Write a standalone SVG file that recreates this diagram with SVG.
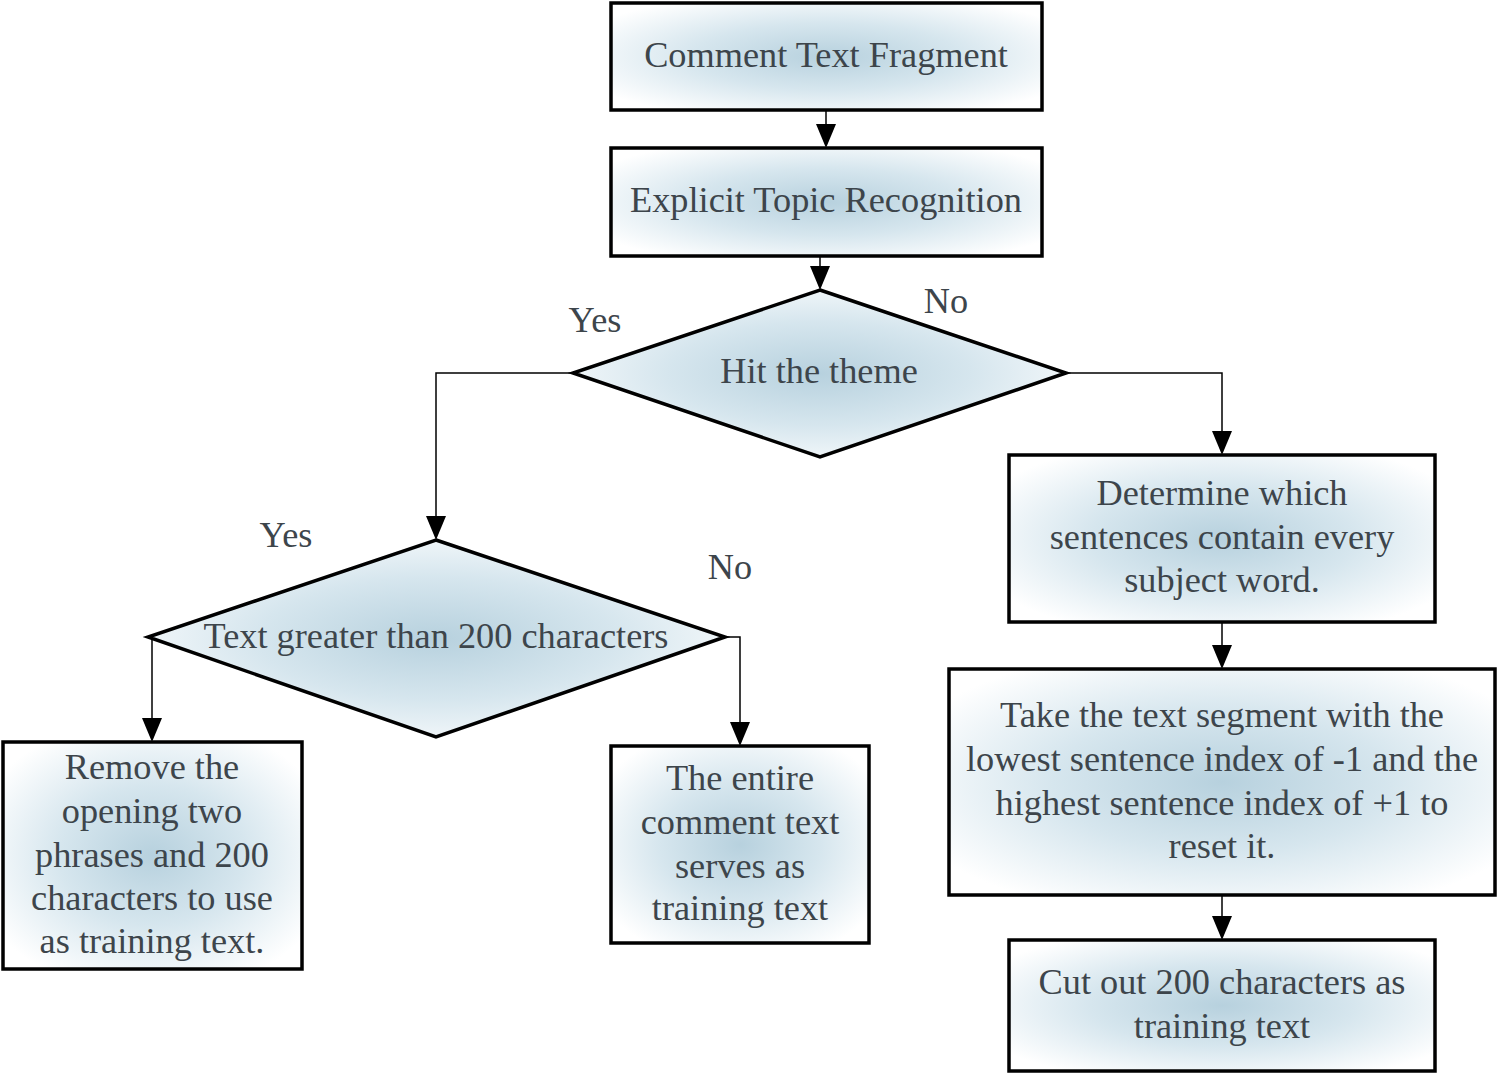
<svg xmlns="http://www.w3.org/2000/svg" width="1500" height="1075" viewBox="0 0 1500 1075">
<defs>
<radialGradient id="g" cx="0.5" cy="0.5" r="0.62">
<stop offset="0" stop-color="#b7d1de"/>
<stop offset="0.5" stop-color="#d6e6ee"/>
<stop offset="1" stop-color="#ffffff"/>
</radialGradient>
</defs>
<style>
.n{fill:url(#g);stroke:#000;stroke-width:3.5;stroke-linejoin:miter}
.t{font-family:'Liberation Serif','Times New Roman',Times,serif;font-size:36.3px;fill:#3d454b;text-anchor:middle}
.c{fill:none;stroke:#000;stroke-width:1.5}
</style>
<rect width="1500" height="1075" fill="#fff"/>
<g id="connectors">
<path class="c" d="M826,110 V124"/><path d="M816,124 L836,124 L826,148 Z"/>
<path class="c" d="M820,256 V266"/><path d="M810,266 L830,266 L820,290 Z"/>
<path class="c" d="M573,373 H436 V516"/><path d="M426,516 L446,516 L436,540 Z"/>
<path class="c" d="M1066,373 H1222 V431"/><path d="M1212,431 L1232,431 L1222,455 Z"/>
<path class="c" d="M152,637 V718"/><path d="M142,718 L162,718 L152,742 Z"/>
<path class="c" d="M725,637 H740 V722"/><path d="M730,722 L750,722 L740,746 Z"/>
<path class="c" d="M1222,622 V645"/><path d="M1212,645 L1232,645 L1222,669 Z"/>
<path class="c" d="M1222,895 V916"/><path d="M1212,916 L1232,916 L1222,940 Z"/>
</g>
<g id="labels">
<text class="t" x="595" y="332">Yes</text>
<text class="t" x="946" y="313">No</text>
<text class="t" x="286" y="547">Yes</text>
<text class="t" x="730" y="579">No</text>
</g>
<g id="n1"><rect class="n" x="611" y="3" width="431" height="107"/><text class="t" x="826" y="67">Comment Text Fragment</text></g>
<g id="n2"><rect class="n" x="611" y="148" width="431" height="108"/><text class="t" x="826" y="212">Explicit Topic Recognition</text></g>
<g id="d1"><polygon class="n" points="820,290 1066,373 820,457 573,373"/><text class="t" x="819" y="383">Hit the theme</text></g>
<g id="d2"><polygon class="n" points="436,540 725,637 436,737 148,637"/><text class="t" x="436" y="648" textLength="465" lengthAdjust="spacingAndGlyphs">Text greater than 200 characters</text></g>
<g id="n3"><rect class="n" x="1009" y="455" width="426" height="167"/>
<text class="t" x="1222" y="505">Determine which</text>
<text class="t" x="1222" y="549">sentences contain every</text>
<text class="t" x="1222" y="592">subject word.</text></g>
<g id="n4"><rect class="n" x="949" y="669" width="546" height="226"/>
<text class="t" x="1222" y="727">Take the text segment with the</text>
<text class="t" x="1222" y="771">lowest sentence index of -1 and the</text>
<text class="t" x="1222" y="815">highest sentence index of +1 to</text>
<text class="t" x="1222" y="858">reset it.</text></g>
<g id="n5"><rect class="n" x="1009" y="940" width="426" height="131"/>
<text class="t" x="1222" y="994">Cut out 200 characters as</text>
<text class="t" x="1222" y="1038">training text</text></g>
<g id="n6"><rect class="n" x="3" y="742" width="299" height="227"/>
<text class="t" x="152" y="779">Remove the</text>
<text class="t" x="152" y="823">opening two</text>
<text class="t" x="152" y="867">phrases and 200</text>
<text class="t" x="152" y="910">characters to use</text>
<text class="t" x="152" y="953">as training text.</text></g>
<g id="n7"><rect class="n" x="611" y="746" width="258" height="197"/>
<text class="t" x="740" y="790">The entire</text>
<text class="t" x="740" y="834">comment text</text>
<text class="t" x="740" y="878">serves as</text>
<text class="t" x="740" y="920">training text</text></g>
</svg>
